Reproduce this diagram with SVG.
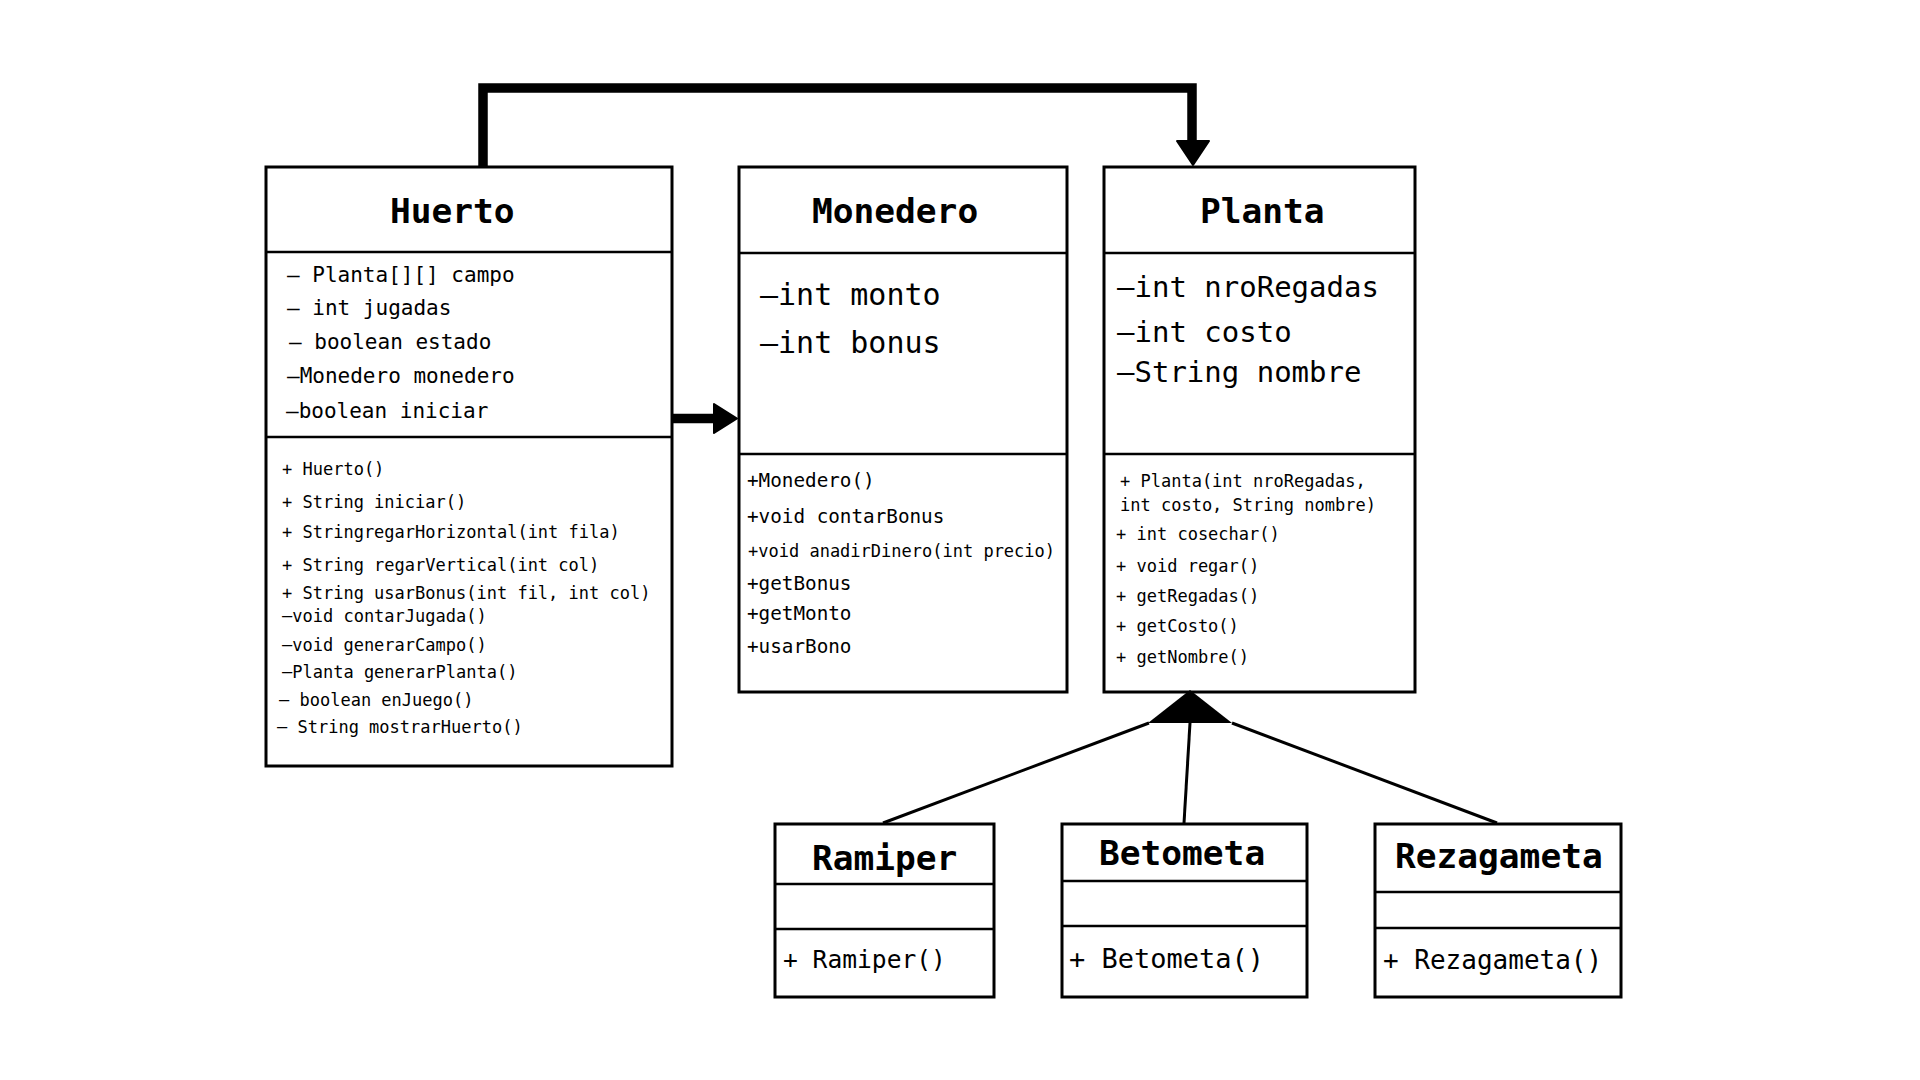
<svg xmlns="http://www.w3.org/2000/svg" width="1920" height="1080" viewBox="0 0 1920 1080">
<style>
.box{fill:#fff;stroke:#000;stroke-width:3}
.dv{stroke:#000;stroke-width:2.5;fill:none}
text{font-family:"DejaVu Sans Mono","Liberation Mono",monospace;fill:#000}
.ti{font-weight:bold;font-size:34.5px}
.ha{font-size:21px}
.m17{font-size:17px}
.m19{font-size:19.3px}
.big{font-size:30px}
.pa{font-size:29px}
.thick{stroke:#000;stroke-width:9.5;fill:none}
.thin{stroke:#000;stroke-width:3;fill:none}
.head{fill:#000;stroke:#000;stroke-width:2;stroke-linejoin:round}
</style>
<rect width="1920" height="1080" fill="#fff"/>

<g id="Huerto">
<rect class="box" x="266" y="167" width="406" height="599"/>
<line class="dv" x1="266" y1="252" x2="672" y2="252"/>
<line class="dv" x1="266" y1="437" x2="672" y2="437"/>
<text class="ti" x="390" y="223">Huerto</text>
<text class="ha" x="287" y="282">– Planta[][] campo</text>
<text class="ha" x="287" y="315">– int jugadas</text>
<text class="ha" x="289" y="349">– boolean estado</text>
<text class="ha" x="287" y="383">–Monedero monedero</text>
<text class="ha" x="286" y="418">–boolean iniciar</text>
<text class="m17" x="282" y="475">+ Huerto()</text>
<text class="m17" x="282" y="508">+ String iniciar()</text>
<text class="m17" x="282" y="538">+ StringregarHorizontal(int fila)</text>
<text class="m17" x="282" y="571">+ String regarVertical(int col)</text>
<text class="m17" x="282" y="599">+ String usarBonus(int fil, int col)</text>
<text class="m17" x="282" y="622">–void contarJugada()</text>
<text class="m17" x="282" y="651">–void generarCampo()</text>
<text class="m17" x="282" y="678">–Planta generarPlanta()</text>
<text class="m17" x="279" y="706">– boolean enJuego()</text>
<text class="m17" x="277" y="733">– String mostrarHuerto()</text>
</g>

<g id="Monedero">
<rect class="box" x="739" y="167" width="328" height="525"/>
<line class="dv" x1="739" y1="253" x2="1067" y2="253"/>
<line class="dv" x1="739" y1="454" x2="1067" y2="454"/>
<text class="ti" x="812" y="223">Monedero</text>
<text class="big" x="760" y="305">–int monto</text>
<text class="big" x="760" y="353">–int bonus</text>
<text class="m19" x="747" y="487">+Monedero()</text>
<text class="m19" x="747" y="523">+void contarBonus</text>
<text class="m17" x="748" y="557">+void anadirDinero(int precio)</text>
<text class="m19" x="747" y="590">+getBonus</text>
<text class="m19" x="747" y="620">+getMonto</text>
<text class="m19" x="747" y="653">+usarBono</text>
</g>

<g id="Planta">
<rect class="box" x="1104" y="167" width="311" height="525"/>
<line class="dv" x1="1104" y1="253" x2="1415" y2="253"/>
<line class="dv" x1="1104" y1="454" x2="1415" y2="454"/>
<text class="ti" x="1200" y="223">Planta</text>
<text class="pa" x="1117" y="297">–int nroRegadas</text>
<text class="pa" x="1117" y="342">–int costo</text>
<text class="pa" x="1117" y="382">–String nombre</text>
<text class="m17" x="1120" y="487">+ Planta(int nroRegadas,</text>
<text class="m17" x="1120" y="511">int costo, String nombre)</text>
<text class="m17" x="1116" y="540">+ int cosechar()</text>
<text class="m17" x="1116" y="572">+ void regar()</text>
<text class="m17" x="1116" y="602">+ getRegadas()</text>
<text class="m17" x="1116" y="632">+ getCosto()</text>
<text class="m17" x="1116" y="663">+ getNombre()</text>
</g>

<g id="Ramiper">
<rect class="box" x="775" y="824" width="219" height="173"/>
<line class="dv" x1="775" y1="884" x2="994" y2="884"/>
<line class="dv" x1="775" y1="929" x2="994" y2="929"/>
<text class="ti" x="812" y="870">Ramiper</text>
<text x="783" y="968" style="font-size:24.6px">+ Ramiper()</text>
</g>

<g id="Betometa">
<rect class="box" x="1062" y="824" width="245" height="173"/>
<line class="dv" x1="1062" y1="881" x2="1307" y2="881"/>
<line class="dv" x1="1062" y1="926" x2="1307" y2="926"/>
<text class="ti" x="1099" y="865">Betometa</text>
<text x="1069" y="968" style="font-size:27px">+ Betometa()</text>
</g>

<g id="Rezagameta">
<rect class="box" x="1375" y="824" width="246" height="173"/>
<line class="dv" x1="1375" y1="892" x2="1621" y2="892"/>
<line class="dv" x1="1375" y1="928" x2="1621" y2="928"/>
<text class="ti" x="1395" y="868">Rezagameta</text>
<text x="1383" y="969" style="font-size:26px">+ Rezagameta()</text>
</g>

<g id="connectors">
<path class="thick" d="M483,167 V88 H1192 V141" stroke-linejoin="miter"/>
<polygon class="head" points="1177,141 1209,141 1193,165"/>
<line class="thick" x1="672" y1="418.5" x2="715" y2="418.5"/>
<polygon class="head" points="714,404 737,418.5 714,433"/>
<polygon fill="#000" points="1190,690 1148,723 1232,723"/>
<line class="thin" x1="1149" y1="723" x2="883" y2="823"/>
<line class="thin" x1="1190" y1="723" x2="1184" y2="823"/>
<line class="thin" x1="1232" y1="723" x2="1497" y2="823"/>
</g>
</svg>
